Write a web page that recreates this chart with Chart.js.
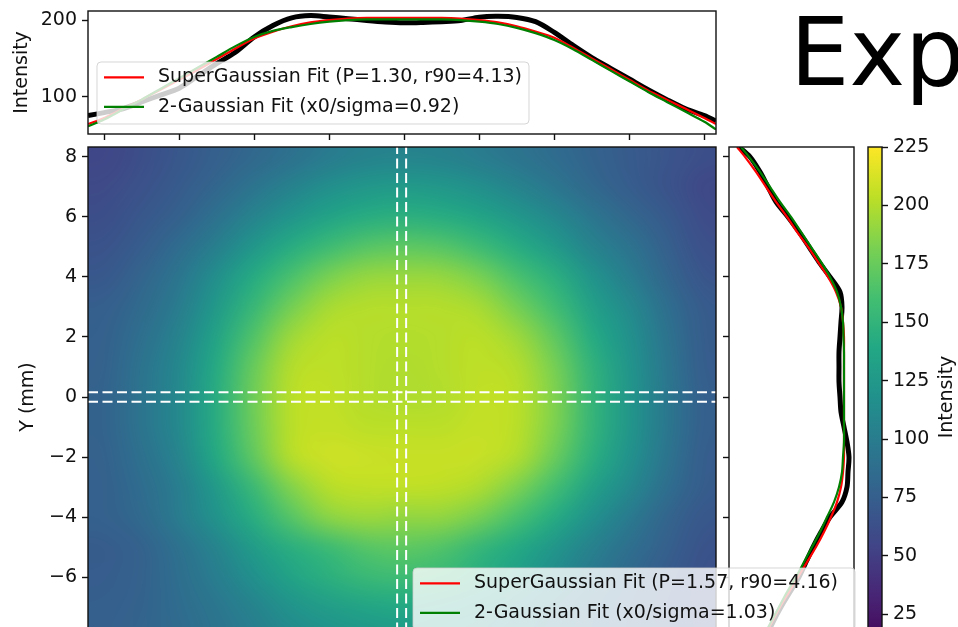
<!DOCTYPE html>
<html>
<head>
<meta charset="utf-8">
<script src="https://cdn.jsdelivr.net/npm/chart.js@4.4.1/dist/chart.umd.min.js"></script>
<style>
  html, body { margin: 0; padding: 0; background: #fff; overflow: hidden; }
  #fig { position: relative; width: 958px; height: 627px; overflow: hidden; background: #fff; }
  #fig canvas { position: absolute; left: 0; top: 0; }
  #suptitle { position: absolute; left: 790px; top: 6px; font: 94px/94px 'DejaVu Sans', sans-serif; color: #000; white-space: nowrap; }
</style>
</head>
<body>
<div id="fig">
  <div id="suptitle">Experimental Beam Profile</div>
  <canvas id="rowCut" width="958" height="660"></canvas>
  <canvas id="beam" width="958" height="660"></canvas>
  <canvas id="colCut" width="958" height="660"></canvas>
  <canvas id="cbar" width="958" height="660"></canvas>
</div>
<script>
// ---- axis ranges and ticks ----
const xLim = [-8.43, 8.31];          // mm, shared by the beam image and the row cut
const yLim = [-8.33, 8.33];          // mm, shared by the beam image and the column cut
const xTicks = [-8, -6, -4, -2, 0, 2, 4, 6, 8];
const yTicks = [8, 6, 4, 2, 0, -2, -4, -6, -8];
const rowCutLim = [51, 212];
const rowCutTicks = [100, 200];
const colCutLim = [87, 212];
const cbLim = [11, 225];
const cbTicks = [25, 50, 75, 100, 125, 150, 175, 200, 225];
const viridis = ['#440154', '#482475', '#414487', '#355f8d', '#2a788e', '#21918c',
                 '#22a884', '#44bf70', '#7ad151', '#bddf26', '#fde725'];

// ---- horizontal cut through the beam centre ----
const rowX = [-8.43, -8, -7.5, -7, -6.5, -6, -5.5, -5, -4.5, -4, -3.5, -3, -2.5, -2, -1.5, -1, -0.5, 0,
              0.5, 1, 1.5, 2, 2.5, 3, 3.5, 4, 4.5, 5, 5.5, 6, 6.5, 7, 7.5, 8, 8.31];
const rowData = [75, 79, 84, 93, 102, 111, 127, 143, 158, 178, 193, 203, 206, 204, 202, 199.5, 197.5, 196.5,
                 197, 198, 199.5, 204, 205, 203.5, 198, 184, 167, 151, 137, 123, 109, 96, 84, 75, 68];
const rowSuperGauss = [64, 72, 84, 96, 109, 122, 135, 149, 163, 176, 185, 192, 197, 200, 202, 203, 203, 203,
                       203, 203, 202, 200, 197, 192, 185, 177, 164, 150, 136, 122, 108, 96, 84, 72, 64];
const rowTwoGauss = [61, 70, 83, 96, 110, 124, 138, 152, 166, 178, 186, 191, 195, 198, 200, 201, 201, 201,
                     201, 201, 200, 198, 195, 190, 183, 174, 162, 148, 134, 120, 106, 93, 80, 67, 57];
const rowFitLabels = ['SuperGaussian Fit (P=1.30, r90=4.13)', '2-Gaussian Fit (x0/sigma=0.92)'];

// ---- vertical cut through the beam centre ----
const colY = [8.33, 8, 7.5, 7, 6.5, 6, 5.5, 5, 4.5, 4, 3.5, 3, 2.5, 2, 1.5, 1, 0.5, 0,
              -0.5, -1, -1.5, -2, -2.5, -3, -3.5, -4, -4.5, -5, -5.5, -6, -6.5, -7, -7.5, -8, -8.33];
const colData = [97, 108, 118, 126, 134, 146, 157, 167, 177, 188, 198, 200, 199, 198, 197, 197, 197, 198,
                 199, 202, 205, 207, 206, 205, 200, 188, 179, 171, 164, 157, 148, 139, 131, 124, 119];
const colSuperGauss = [95, 103, 114, 124, 134, 145, 155, 166, 176, 186, 194, 199, 201, 202, 202, 202, 202, 202,
                       202, 202, 202, 202, 201, 199, 195, 189, 182, 174, 165, 156, 147, 138, 130, 122, 117];
const colTwoGauss = [99, 107, 118, 128, 138, 149, 159, 169, 179, 188, 195, 199, 201, 201.5, 202, 202, 202, 202,
                     202, 202, 202, 201, 200, 197, 192, 185, 178, 170, 162, 154, 145, 137, 129, 121, 116];
const colFitLabels = ['SuperGaussian Fit (P=1.57, r90=4.16)', '2-Gaussian Fit (x0/sigma=1.03)'];

// ---- crosshair (cut band edges) ----
const cutX = [-0.19, 0.05];
const cutY = [0.16, -0.16];

// ---- beam image, 1 mm grid, rows from top (y = 8) to bottom (y = -8) ----
const gridX = [-8, -7, -6, -5, -4, -3, -2, -1, 0, 1, 2, 3, 4, 5, 6, 7, 8];
const gridY = [8, 7, 6, 5, 4, 3, 2, 1, 0, -1, -2, -3, -4, -5, -6, -7, -8];
const intensity = [
  [56, 62, 69, 76, 83, 91, 99, 105, 107, 105, 100, 93, 86, 79, 72, 67, 62],
  [59, 65, 72, 81, 93, 105, 116, 124, 126, 124, 116, 106, 95, 83, 74, 66, 58],
  [62, 69, 77, 91, 107, 122, 135, 143, 146, 143, 136, 124, 110, 95, 82, 71, 60],
  [66, 74, 86, 103, 124, 143, 157, 168, 171, 168, 157, 143, 126, 106, 92, 76, 63],
  [70, 80, 94, 116, 142, 163, 182, 191, 192, 191, 182, 163, 146, 121, 101, 81, 67],
  [75, 85, 100, 125, 153, 180, 197, 201, 201, 201, 197, 180, 159, 132, 112, 88, 72],
  [77, 89, 106, 135, 166, 194, 203, 201, 200, 201, 203, 194, 172, 142, 118, 92, 73],
  [78, 92, 110, 141, 175, 201, 204, 201, 199, 201, 204, 201, 181, 149, 122, 95, 74],
  [79, 93, 111, 143, 178, 203, 205, 201, 199, 200, 205, 203, 184, 151, 123, 96, 75],
  [79, 93, 111, 143, 177, 203, 206, 203, 203, 203, 206, 203, 183, 151, 123, 96, 75],
  [78, 90, 107, 140, 172, 202, 209, 208, 207, 207, 207, 200, 176, 146, 119, 93, 74],
  [77, 86, 101, 126, 155, 185, 202, 205, 205, 204, 199, 183, 160, 133, 111, 88, 73],
  [77, 84, 100, 120, 144, 168, 188, 193, 190, 190, 180, 162, 142, 118, 98, 80, 69],
  [73, 78, 91, 107, 128, 145, 156, 168, 171, 166, 152, 140, 123, 104, 89, 76, 66],
  [74, 78, 88, 101, 117, 135, 146, 154, 157, 153, 144, 131, 113, 97, 83, 72, 64],
  [75, 79, 86, 95, 106, 120, 129, 136, 139, 134, 125, 114, 100, 88, 78, 70, 64],
  [76, 80, 85, 92, 101, 111, 118, 123, 125, 121, 115, 106, 96, 86, 78, 71, 65]
];

// ---- shared styling ----
const FONT = "'DejaVu Sans', sans-serif";
const FONT_SIZE = 19;
const INK = '#111';
Chart.defaults.font.family = FONT;
Chart.defaults.font.size = FONT_SIZE;
Chart.defaults.color = INK;
Chart.defaults.animation = false;
Chart.defaults.events = [];
Chart.defaults.plugins.legend.display = false;
Chart.defaults.plugins.tooltip.enabled = false;

const tickGrid = { drawOnChartArea: false, drawTicks: true, tickLength: 6, tickWidth: 1.4, color: INK };
const minus = v => (v < 0 ? '\u2212' : '') + Math.abs(v);
const pairs = (xs, ys) => xs.map((x, i) => ({ x, y: ys[i] }));

// fixed axis thickness so the panels line up, and explicit tick values
function fixedAxis(size, tickValues) {
  return {
    afterFit(s) {
      if (s.isHorizontal()) s.height = size; else s.width = size;
      s.paddingTop = s.paddingBottom = s.paddingLeft = s.paddingRight = 0;
    },
    afterBuildTicks(s) {
      if (tickValues) s.ticks = tickValues.map(value => ({ value }));
    }
  };
}

function hexRgb(h) {
  return [1, 3, 5].map(i => parseInt(h.slice(i, i + 2), 16));
}
function viridisAt(t) {
  t = Math.min(1, Math.max(0, t)) * (viridis.length - 1);
  const i = Math.min(viridis.length - 2, Math.floor(t));
  const f = t - i;
  const a = hexRgb(viridis[i]), b = hexRgb(viridis[i + 1]);
  return a.map((c, k) => Math.round(c + (b[k] - c) * f));
}

function lineSet(label, xs, ys, color, width, order, inLegend) {
  return {
    label, data: pairs(xs, ys), borderColor: color, borderWidth: width,
    showLine: true, pointRadius: 0, tension: 0.3, order, clip: 0, inLegend
  };
}

// ---- plugins ----
const frame = {
  id: 'frame',
  afterDatasetsDraw(chart) {
    const { ctx, chartArea: a } = chart;
    ctx.save();
    ctx.strokeStyle = INK;
    ctx.lineWidth = 1.4;
    ctx.strokeRect(a.left, a.top, a.width, a.height);
    ctx.restore();
  }
};

const boxLegend = {
  id: 'boxLegend',
  afterDraw(chart, args, o) {
    const { ctx } = chart;
    ctx.save();
    ctx.beginPath();
    ctx.roundRect(o.left, o.top, o.width, o.height, 4);
    ctx.fillStyle = 'rgba(255,255,255,0.8)';
    ctx.fill();
    ctx.strokeStyle = 'rgba(204,204,204,0.8)';
    ctx.lineWidth = 1;
    ctx.stroke();
    ctx.font = FONT_SIZE + 'px ' + FONT;
    ctx.textBaseline = 'middle';
    chart.data.datasets.filter(d => d.inLegend).forEach((d, i) => {
      const cy = o.top + 15.3 + i * 29.5;
      ctx.strokeStyle = d.borderColor;
      ctx.lineWidth = d.borderWidth;
      ctx.beginPath();
      ctx.moveTo(o.left + 7, cy);
      ctx.lineTo(o.left + 47, cy);
      ctx.stroke();
      ctx.fillStyle = INK;
      ctx.fillText(d.label, o.left + 61, cy);
    });
    ctx.restore();
  }
};

// beam image: one source pixel per grid cell, smoothed up to the axes extent
const beamImage = {
  id: 'beamImage',
  beforeDatasetsDraw(chart) {
    const { ctx, chartArea: a, scales: { x, y } } = chart;
    const nx = gridX.length, ny = gridY.length;
    const off = document.createElement('canvas');
    off.width = nx; off.height = ny;
    const octx = off.getContext('2d');
    const img = octx.createImageData(nx, ny);
    intensity.forEach((row, j) => row.forEach((v, i) => {
      const rgb = viridisAt((v - cbLim[0]) / (cbLim[1] - cbLim[0]));
      const k = (j * nx + i) * 4;
      img.data[k] = rgb[0]; img.data[k + 1] = rgb[1]; img.data[k + 2] = rgb[2]; img.data[k + 3] = 255;
    }));
    octx.putImageData(img, 0, 0);
    const hx = (gridX[1] - gridX[0]) / 2, hy = (gridY[0] - gridY[1]) / 2;
    const x0 = x.getPixelForValue(gridX[0] - hx), x1 = x.getPixelForValue(gridX[nx - 1] + hx);
    const y0 = y.getPixelForValue(gridY[0] + hy), y1 = y.getPixelForValue(gridY[ny - 1] - hy);
    ctx.save();
    ctx.beginPath();
    ctx.rect(a.left, a.top, a.width, a.height);
    ctx.clip();
    ctx.imageSmoothingEnabled = true;
    ctx.imageSmoothingQuality = 'high';
    ctx.drawImage(off, x0, y0, x1 - x0, y1 - y0);
    ctx.restore();
  }
};

const colorBar = {
  id: 'colorBar',
  beforeDatasetsDraw(chart) {
    const { ctx, chartArea: a, scales: { y } } = chart;
    const yb = y.getPixelForValue(cbLim[0]), yt = y.getPixelForValue(cbLim[1]);
    const g = ctx.createLinearGradient(0, yb, 0, yt);
    viridis.forEach((c, i) => g.addColorStop(i / (viridis.length - 1), c));
    ctx.save();
    ctx.fillStyle = g;
    ctx.fillRect(a.left, yt, a.width, yb - yt);
    ctx.restore();
  },
  afterDraw(chart, args, o) {
    const { ctx } = chart;
    ctx.save();
    ctx.translate(o.labelX, o.labelY);
    ctx.rotate(-Math.PI / 2);
    ctx.font = FONT_SIZE + 'px ' + FONT;
    ctx.fillStyle = INK;
    ctx.textAlign = 'center';
    ctx.textBaseline = 'middle';
    ctx.fillText(o.label, 0, 0);
    ctx.restore();
  }
};

// ---- top panel: horizontal cut ----
new Chart(document.getElementById('rowCut'), {
  type: 'scatter',
  data: {
    datasets: [
      lineSet('Data', rowX, rowData, '#000', 5, 3, false),
      lineSet(rowFitLabels[0], rowX, rowSuperGauss, '#ff0000', 2.2, 2, true),
      lineSet(rowFitLabels[1], rowX, rowTwoGauss, '#008000', 2.2, 1, true)
    ]
  },
  options: {
    responsive: false,
    layout: { padding: { left: 0, top: 11, right: 242, bottom: 515 } },
    scales: {
      x: {
        type: 'linear', min: xLim[0], max: xLim[1],
        ticks: { display: false }, grid: tickGrid, border: { display: false },
        ...fixedAxis(11, xTicks)
      },
      y: {
        type: 'linear', min: rowCutLim[0], max: rowCutLim[1],
        ticks: { padding: 5 }, grid: tickGrid, border: { display: false },
        title: { display: true, text: 'Intensity', padding: { top: 10.3, bottom: 0 } },
        ...fixedAxis(88, rowCutTicks)
      }
    },
    plugins: { boxLegend: { left: 97, top: 62, width: 432, height: 62 } }
  },
  plugins: [frame, boxLegend]
});

// ---- main panel: beam image with crosshair ----
const dash = { borderColor: '#fff', borderWidth: 2, borderDash: [10, 4.5], showLine: true, pointRadius: 0, clip: 0 };
new Chart(document.getElementById('beam'), {
  type: 'scatter',
  data: {
    datasets: [
      ...cutX.map(cx => ({ ...dash, label: 'x cut', data: [{ x: cx, y: yLim[0] }, { x: cx, y: yLim[1] }] })),
      ...cutY.map(cy => ({ ...dash, label: 'y cut', data: [{ x: xLim[0], y: cy }, { x: xLim[1], y: cy }] }))
    ]
  },
  options: {
    responsive: false,
    layout: { padding: { left: 0, top: 147, right: 242, bottom: 13 } },
    scales: {
      x: { type: 'linear', min: xLim[0], max: xLim[1], display: false },
      y: {
        type: 'linear', min: yLim[0], max: yLim[1],
        ticks: { padding: 5, callback: minus }, grid: tickGrid, border: { display: false },
        title: { display: true, text: 'Y (mm)', padding: { top: 16.6, bottom: 0 } },
        ...fixedAxis(88, yTicks)
      }
    }
  },
  plugins: [beamImage, frame]
});

// ---- right panel: vertical cut ----
new Chart(document.getElementById('colCut'), {
  type: 'scatter',
  data: {
    datasets: [
      lineSet('Data', colData, colY, '#000', 5, 3, false),
      lineSet(colFitLabels[0], colSuperGauss, colY, '#ff0000', 2.2, 2, true),
      lineSet(colFitLabels[1], colTwoGauss, colY, '#008000', 2.2, 1, true)
    ]
  },
  options: {
    responsive: false,
    layout: { padding: { left: 719, top: 147, right: 104, bottom: 13 } },
    scales: {
      x: { type: 'linear', min: colCutLim[0], max: colCutLim[1], display: false },
      y: {
        type: 'linear', min: yLim[0], max: yLim[1],
        ticks: { display: false }, grid: tickGrid, border: { display: false },
        ...fixedAxis(10, yTicks)
      }
    },
    plugins: { boxLegend: { left: 413, top: 568, width: 442, height: 62 } }
  },
  plugins: [frame, boxLegend]
});

// ---- colour bar ----
new Chart(document.getElementById('cbar'), {
  type: 'scatter',
  data: { datasets: [] },
  options: {
    responsive: false,
    layout: { padding: { left: 868, top: 147, right: 0, bottom: 13 } },
    scales: {
      x: { type: 'linear', min: 0, max: 1, display: false },
      y: {
        type: 'linear', position: 'right', min: cbLim[0], max: cbLim[1],
        ticks: { padding: 5 }, grid: tickGrid, border: { display: false },
        ...fixedAxis(76, cbTicks)
      }
    },
    plugins: { colorBar: { label: 'Intensity', labelX: 947, labelY: 397 } }
  },
  plugins: [colorBar, frame]
});
</script>
</body>
</html>
